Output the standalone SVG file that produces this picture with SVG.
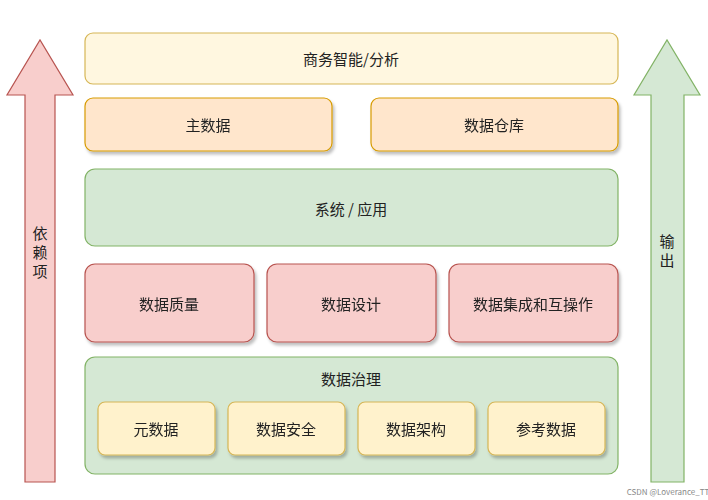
<svg xmlns="http://www.w3.org/2000/svg" width="708" height="500" viewBox="0 0 708 500">
<style>
text{font-family:"Noto Sans CJK SC","Noto Sans",sans-serif;font-size:15px;fill:#222;text-anchor:middle;dominant-baseline:central}
.y{fill:#fff2cc;stroke:#d6b656;stroke-width:1.2}
.o{fill:#ffe6cc;stroke:#d79b00;stroke-width:1.2}
.g{fill:#d5e8d4;stroke:#82b366;stroke-width:1.2}
.r{fill:#f8cecc;stroke:#b85450;stroke-width:1.2}
.s{filter:url(#sh)}
</style>
<defs><filter id="sh" x="-10%" y="-10%" width="130%" height="140%"><feDropShadow dx="2" dy="3" stdDeviation="1.5" flood-color="#000" flood-opacity="0.25"/></filter></defs>
<rect width="708" height="500" fill="#fff"/>
<g id="arrows">
<g id="dep"><path class="r" d="M25,482 V95 H7 L40,40 L73,95 H55 V482 Z"/><text x="40" y="232">依</text><text x="40" y="251">赖</text><text x="40" y="270">项</text></g>
<g id="out"><path class="g" d="M651,482 V95 H634 L667,40 L700,95 H684 V482 Z"/><text x="667" y="240">输</text><text x="667" y="259">出</text></g>
</g>
<g id="bi"><rect class="y" x="85" y="33" width="533" height="51" rx="8" fill-opacity="0.6"/><text x="351" y="58">商务智能/分析</text></g>
<g id="md" class="s"><rect class="o" x="85" y="98" width="247" height="53" rx="8"/><text x="208" y="124">主数据</text></g>
<g id="dw" class="s"><rect class="o" x="371" y="98" width="247" height="53" rx="8"/><text x="494" y="124">数据仓库</text></g>
<g id="sys"><rect class="g" x="85" y="169" width="533" height="77" rx="10"/><text x="351" y="208">系统 / 应用</text></g>
<g id="dq" class="s"><rect class="r" x="85" y="264" width="169" height="78" rx="10"/><text x="169" y="303">数据质量</text></g>
<g id="dd" class="s"><rect class="r" x="267" y="264" width="169" height="78" rx="10"/><text x="351" y="303">数据设计</text></g>
<g id="di" class="s"><rect class="r" x="449" y="264" width="169" height="78" rx="10"/><text x="533" y="303">数据集成和互操作</text></g>
<g id="gov"><rect class="g" x="85" y="357" width="533" height="117" rx="10"/><text x="351" y="378">数据治理</text></g>
<g id="meta" class="s"><rect class="y" x="98" y="402" width="117" height="53" rx="7"/><text x="156" y="428">元数据</text></g>
<g id="sec" class="s"><rect class="y" x="228" y="402" width="117" height="53" rx="7"/><text x="286" y="428">数据安全</text></g>
<g id="arch" class="s"><rect class="y" x="358" y="402" width="117" height="53" rx="7"/><text x="416" y="428">数据架构</text></g>
<g id="ref" class="s"><rect class="y" x="488" y="402" width="117" height="53" rx="7"/><text x="546" y="428">参考数据</text></g>
<text x="668" y="491" style="font-size:8px;fill:#888">CSDN @Loverance_TT</text>
</svg>
